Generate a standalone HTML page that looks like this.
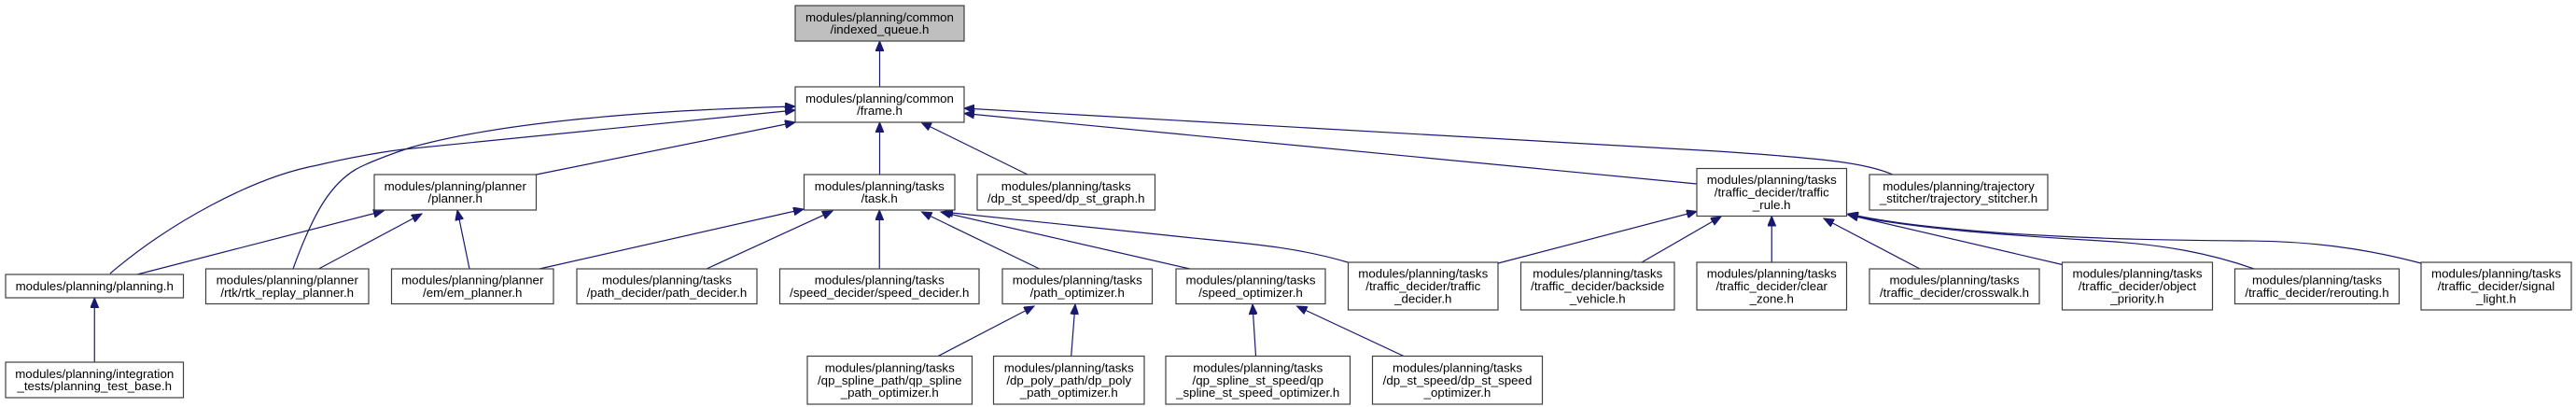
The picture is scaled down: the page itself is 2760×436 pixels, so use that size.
<!DOCTYPE html>
<html><head><meta charset="utf-8"><style>
html,body{margin:0;padding:0;background:#fff;}
svg{display:block;}
text{font-family:"Liberation Sans",Helvetica,Arial,sans-serif;font-size:13.3px;fill:#000;text-anchor:middle;}
rect{fill:#fff;stroke:#404040;stroke-width:1.2;}
.e{fill:none;stroke:#191970;stroke-width:1.2;marker-end:url(#a);}
</style></head><body>
<svg width="2760" height="436" viewBox="0 0 2760 436" xmlns="http://www.w3.org/2000/svg">
<defs><marker id="a" markerUnits="userSpaceOnUse" markerWidth="12" markerHeight="9" refX="11" refY="4.5" orient="auto"><path d="M0,0 L11,4.5 L0,9 z" fill="#191970" stroke="#191970"/></marker></defs>

<!-- edges -->
<path class="e" d="M942.5,93 L942.5,44"/>
<path class="e" d="M942.5,187 L942.5,131"/>
<path class="e" d="M1101,187 L987,131"/>
<path class="e" d="M574.5,187 L852,131"/>
<path class="e" d="M118,293 C180,240 270,190 340,177 C370,170 400,164 432,160 L852,118"/>
<path class="e" d="M314,288 C335,230 355,192 390,177 C410,168 425,163 440,158 C540,130 700,118 852,114"/>
<path class="e" d="M1818,197 L1033,121.5"/>
<path class="e" d="M2028,187 C2000,175 1960,170 1840,162 L1033,116"/>
<path class="e" d="M147,294 L411,226"/>
<path class="e" d="M341.5,288 L452,229"/>
<path class="e" d="M503,288 L490,225"/>
<path class="e" d="M578,288 L861,224"/>
<path class="e" d="M757,288 L892,226"/>
<path class="e" d="M942.25,288 L942.25,225"/>
<path class="e" d="M1113.7,288 L987.5,227"/>
<path class="e" d="M1275,288 L1008,227"/>
<path class="e" d="M1444,281 C1380,262 1320,260 1250,252 L1010,227"/>
<path class="e" d="M1005,381.5 L1108,328"/>
<path class="e" d="M1147.7,381.5 L1152,326"/>
<path class="e" d="M1345.5,381.5 L1342,326"/>
<path class="e" d="M1504,381.5 L1389.5,328"/>
<path class="e" d="M101.25,388 L101.25,319"/>
<path class="e" d="M1605,282 L1818,226.5"/>
<path class="e" d="M1759,281 L1844,232"/>
<path class="e" d="M1898.25,281 L1898.25,231.5"/>
<path class="e" d="M2057,288 L1954,234"/>
<path class="e" d="M2209.7,283.5 L1980,230"/>
<path class="e" d="M2415,288 C2370,272 2320,262 2251,258 C2150,252 2050,245 1980,230"/>
<path class="e" d="M2594,282 C2530,265 2470,258 2403,258 C2300,257 2250,256 2150,250 C2070,244 2020,238 1980,229"/>

<!-- nodes -->
<rect x="852" y="6" width="181" height="38" style="fill:#bfbfbf"/>
<text x="942.5" y="22.8">modules/planning/common</text><text x="942.5" y="36.2">/indexed_queue.h</text>

<rect x="852" y="93" width="181" height="38"/>
<text x="942.5" y="109.8">modules/planning/common</text><text x="942.5" y="123.2">/frame.h</text>

<rect x="401" y="187" width="173.5" height="38"/>
<text x="487.75" y="203.8">modules/planning/planner</text><text x="487.75" y="217.2">/planner.h</text>

<rect x="861.5" y="187" width="161.5" height="38"/>
<text x="942.25" y="203.8">modules/planning/tasks</text><text x="942.25" y="217.2">/task.h</text>

<rect x="1047" y="187" width="190.5" height="38"/>
<text x="1142.25" y="203.8">modules/planning/tasks</text><text x="1142.25" y="217.2">/dp_st_speed/dp_st_graph.h</text>

<rect x="1818" y="180.5" width="160.5" height="51"/>
<text x="1898.25" y="197.1">modules/planning/tasks</text><text x="1898.25" y="210.5">/traffic_decider/traffic</text><text x="1898.25" y="223.9">_rule.h</text>

<rect x="2003" y="187" width="191" height="38"/>
<text x="2098.5" y="203.8">modules/planning/trajectory</text><text x="2098.5" y="217.2">_stitcher/trajectory_stitcher.h</text>

<rect x="6" y="294" width="190.5" height="25"/>
<text x="101.25" y="311">modules/planning/planning.h</text>

<rect x="220.5" y="288" width="174.5" height="37.5"/>
<text x="307.75" y="304.5">modules/planning/planner</text><text x="307.75" y="318">/rtk/rtk_replay_planner.h</text>

<rect x="419.5" y="288" width="173.5" height="37.5"/>
<text x="506.25" y="304.5">modules/planning/planner</text><text x="506.25" y="318">/em/em_planner.h</text>

<rect x="618" y="288" width="193" height="37.5"/>
<text x="714.5" y="304.5">modules/planning/tasks</text><text x="714.5" y="318">/path_decider/path_decider.h</text>

<rect x="835.5" y="288" width="213.5" height="37.5"/>
<text x="942.25" y="304.5">modules/planning/tasks</text><text x="942.25" y="318">/speed_decider/speed_decider.h</text>

<rect x="1074" y="288" width="160.5" height="37.5"/>
<text x="1154.25" y="304.5">modules/planning/tasks</text><text x="1154.25" y="318">/path_optimizer.h</text>

<rect x="1260" y="288" width="160" height="37.5"/>
<text x="1340" y="304.5">modules/planning/tasks</text><text x="1340" y="318">/speed_optimizer.h</text>

<rect x="1444.5" y="281" width="160.5" height="51"/>
<text x="1524.75" y="297.6">modules/planning/tasks</text><text x="1524.75" y="311">/traffic_decider/traffic</text><text x="1524.75" y="324.4">_decider.h</text>

<rect x="1629.5" y="281" width="164.5" height="51"/>
<text x="1711.75" y="297.6">modules/planning/tasks</text><text x="1711.75" y="311">/traffic_decider/backside</text><text x="1711.75" y="324.4">_vehicle.h</text>

<rect x="1818" y="281" width="160.5" height="51"/>
<text x="1898.25" y="297.6">modules/planning/tasks</text><text x="1898.25" y="311">/traffic_decider/clear</text><text x="1898.25" y="324.4">_zone.h</text>

<rect x="2003" y="288" width="182" height="37.5"/>
<text x="2094" y="304.5">modules/planning/tasks</text><text x="2094" y="318">/traffic_decider/crosswalk.h</text>

<rect x="2209.5" y="281" width="161" height="51"/>
<text x="2290" y="297.6">modules/planning/tasks</text><text x="2290" y="311">/traffic_decider/object</text><text x="2290" y="324.4">_priority.h</text>

<rect x="2394.5" y="288" width="176" height="37.5"/>
<text x="2482.5" y="304.5">modules/planning/tasks</text><text x="2482.5" y="318">/traffic_decider/rerouting.h</text>

<rect x="2594" y="281" width="161" height="51"/>
<text x="2674.5" y="297.6">modules/planning/tasks</text><text x="2674.5" y="311">/traffic_decider/signal</text><text x="2674.5" y="324.4">_light.h</text>

<rect x="6" y="388" width="190.5" height="38"/>
<text x="101.25" y="404.8">modules/planning/integration</text><text x="101.25" y="418.2">_tests/planning_test_base.h</text>

<rect x="865" y="381.5" width="176.5" height="51.5"/>
<text x="953.25" y="398.4">modules/planning/tasks</text><text x="953.25" y="411.8">/qp_spline_path/qp_spline</text><text x="953.25" y="425.2">_path_optimizer.h</text>

<rect x="1064.5" y="381.5" width="161.5" height="51.5"/>
<text x="1145.25" y="398.4">modules/planning/tasks</text><text x="1145.25" y="411.8">/dp_poly_path/dp_poly</text><text x="1145.25" y="425.2">_path_optimizer.h</text>

<rect x="1249" y="381.5" width="197.5" height="51.5"/>
<text x="1347.75" y="398.4">modules/planning/tasks</text><text x="1347.75" y="411.8">/qp_spline_st_speed/qp</text><text x="1347.75" y="425.2">_spline_st_speed_optimizer.h</text>

<rect x="1470.5" y="381.5" width="182" height="51.5"/>
<text x="1561.5" y="398.4">modules/planning/tasks</text><text x="1561.5" y="411.8">/dp_st_speed/dp_st_speed</text><text x="1561.5" y="425.2">_optimizer.h</text>
</svg>
</body></html>
